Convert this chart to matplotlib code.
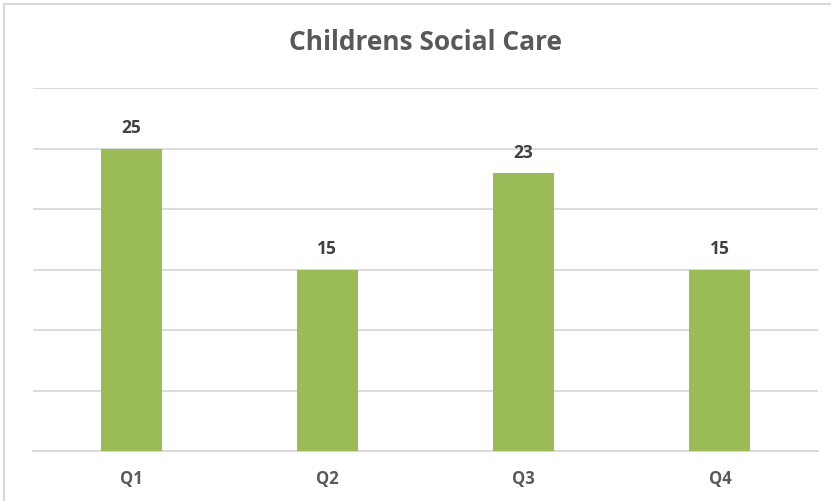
import matplotlib
matplotlib.use("Agg")
import matplotlib.pyplot as plt
from matplotlib.lines import Line2D

categories = ["Q1", "Q2", "Q3", "Q4"]
values = [25, 15, 23, 15]

plt.rcParams['font.family'] = ['Open Sans', 'DejaVu Sans']

fig = plt.figure(figsize=(8.31, 5.01), dpi=100)
ax = fig.add_axes([33 / 831, 50 / 501, 785 / 831, 363 / 501])

x = range(len(categories))
bars = ax.bar(x, values, width=0.31, color="#9BBB59", zorder=3)

ax.set_xlim(-0.5, len(categories) - 0.5)
ax.set_ylim(0, 30)
ax.set_yticks(range(0, 31, 5))
ax.yaxis.grid(True, color="#d9d9d9", linewidth=1.3, zorder=0)
ax.tick_params(axis='y', left=False, labelleft=False)
ax.set_xticks(list(x))
ax.set_xticklabels(categories, fontsize=12, color="#595959", fontweight='bold')
ax.tick_params(axis='x', length=0, pad=14)
for side in ["left", "right", "top"]:
    ax.spines[side].set_visible(False)
ax.spines["bottom"].set_color("#d9d9d9")
ax.spines["bottom"].set_linewidth(1.5)

for b, v in zip(bars, values):
    ax.annotate(str(v), (b.get_x() + b.get_width() / 2, v), xytext=(0, 8),
                textcoords="offset points", ha="center", va="bottom",
                fontsize=12.5, fontweight="bold", color="#404040")

fig.text(0.512, 1 - 42 / 501, "Childrens Social Care", ha="center", va="center",
         fontsize=19, fontweight="bold", color="#595959")

# chart frame
fig.add_artist(Line2D([4 / 831, 4 / 831], [0, 1 - 4 / 501], transform=fig.transFigure,
                      color="#d9d9d9", linewidth=1.5))
fig.add_artist(Line2D([4 / 831, 1], [1 - 4 / 501, 1 - 4 / 501], transform=fig.transFigure,
                      color="#d9d9d9", linewidth=1.5))

fig.savefig("out.png", dpi=100)
